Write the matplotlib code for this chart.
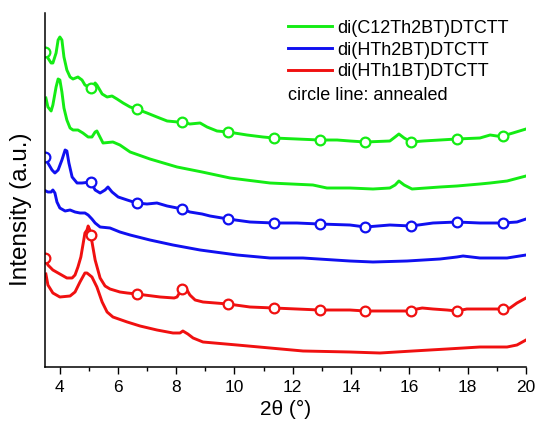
import matplotlib
matplotlib.use("Agg")
import matplotlib.pyplot as plt
from matplotlib.lines import Line2D
import numpy as np

plt.rcParams['font.family'] = ['Liberation Sans', 'DejaVu Sans']

# 2theta positions of the open circles on the annealed curves
marker_x = [3.5, 5.07, 6.64, 8.21, 9.78, 11.35, 12.92, 14.49, 16.06, 17.63, 19.2]

# di(C12Th2BT)DTCTT annealed
ga_x = [3.5, 3.6, 3.71, 3.77, 3.88, 3.95, 4.01, 4.08, 4.15, 4.25, 4.36, 4.46, 4.63, 4.77,
        4.87, 5.07, 5.22, 5.28, 5.46, 5.63, 5.8, 5.97, 6.18, 6.42, 6.64, 7.0, 7.34, 7.69,
        8.06, 8.21, 8.47, 8.82, 9.06, 9.4, 9.78, 10.43, 10.98, 11.35, 12.14, 12.92, 13.52,
        13.96, 14.49, 15.33, 15.51, 15.64, 15.82, 16.06, 16.47, 17.05, 17.63, 18.42, 18.77,
        19.0, 19.2, 19.55, 20.0]
ga_y = [315, 309, 304, 304, 314, 327, 330, 327, 310, 297, 290, 288, 290, 287,
        282, 279, 284, 282, 273, 270, 271, 268, 264, 260, 258, 254, 250, 246,
        245, 245, 243, 244, 240, 236, 235, 232, 230, 229, 228, 227, 227,
        226, 225, 226, 230, 233, 229, 225, 226, 227, 228, 229, 232,
        231, 231, 234, 238]
# di(C12Th2BT)DTCTT as cast
gc_x = [3.53, 3.6, 3.71, 3.77, 3.88, 3.95, 4.01, 4.08, 4.15, 4.25, 4.36, 4.46, 4.63, 4.8,
        4.98, 5.11, 5.22, 5.28, 5.49, 5.83, 6.07, 6.42, 7.1, 8.03, 8.89, 9.85, 11.22, 12.69,
        13.17, 13.96, 14.75, 15.33, 15.51, 15.64, 15.82, 16.09, 17.05, 17.63, 18.42, 18.77,
        19.35, 20.0]
gc_y = [269, 260, 256, 262, 280, 288, 287, 275, 259, 247, 239, 237, 237, 234,
        230, 230, 235, 236, 224, 225, 222, 215, 208, 200, 195, 189, 184, 182,
        179, 179, 178, 179, 182, 186, 182, 178, 180, 181, 183, 184,
        186, 191]
# di(HTh2BT)DTCTT annealed
ba_x = [3.5, 3.6, 3.74, 3.84, 3.95, 4.08, 4.19, 4.25, 4.32, 4.43, 4.6, 4.77, 5.07, 5.22,
        5.39, 5.56, 5.66, 5.8, 6.01, 6.32, 6.64, 7.0, 7.34, 7.69, 8.21, 8.47, 8.89, 9.16,
        9.78, 10.53, 11.35, 12.14, 12.92, 13.96, 14.49, 15.33, 16.06, 16.81, 17.63, 18.42,
        19.2, 19.69, 20.0]
ba_y = [210, 204, 197, 194, 197, 207, 217, 216, 204, 190, 184, 184, 185, 177,
        174, 177, 180, 175, 170, 167, 164, 163, 164, 161, 158, 155, 153, 151,
        148, 145, 144, 144, 143, 142, 140, 142, 141, 144, 145, 144,
        144, 145, 148]
# di(HTh2BT)DTCTT as cast
bc_x = [3.53, 3.6, 3.71, 3.77, 3.84, 3.91, 4.01, 4.19, 4.36, 4.53, 4.7, 4.87, 4.98, 5.11,
        5.22, 5.39, 5.73, 6.07, 6.42, 7.1, 7.89, 8.82, 10.09, 11.22, 12.35, 13.96, 14.75,
        15.92, 17.05, 17.63, 17.84, 18.42, 19.35, 20.0]
bc_y = [176, 175, 175, 177, 174, 165, 159, 156, 157, 155, 154, 154, 152, 148,
        144, 140, 139, 135, 132, 127, 122, 117, 112, 109, 109, 106, 105,
        106, 108, 110, 111, 109, 109, 112]
# di(HTh1BT)DTCTT annealed
ra_x = [3.5, 3.6, 3.77, 4.01, 4.25, 4.43, 4.53, 4.63, 4.73, 4.8, 4.87, 4.94, 4.98, 5.04,
        5.07, 5.22, 5.39, 5.56, 5.73, 6.07, 6.32, 6.64, 7.45, 7.93, 8.03, 8.13, 8.21, 8.37,
        8.47, 8.65, 8.92, 9.78, 10.53, 11.35, 12.92, 13.96, 14.49, 15.33, 16.06, 16.26,
        16.44, 16.81, 17.29, 17.63, 17.97, 18.52, 19.2, 19.45, 19.69, 20.0]
ra_y = [109, 102, 97, 93, 89, 89, 92, 100, 110, 122, 134, 137, 141, 137,
        132, 107, 89, 81, 78, 75, 74, 73, 70, 69, 70, 75, 78, 77,
        72, 67, 65, 63, 60, 59, 57, 57, 56, 56, 56, 58,
        59, 58, 57, 56, 58, 58, 58, 59, 64, 69]
# di(HTh1BT)DTCTT as cast
rc_x = [3.53, 3.6, 3.77, 4.01, 4.36, 4.53, 4.7, 4.87, 4.94, 5.11, 5.28, 5.46, 5.63, 5.83,
        6.32, 6.76, 7.34, 7.89, 8.13, 8.23, 8.4, 8.58, 8.92, 10.09, 11.22, 12.35, 13.96,
        14.99, 16.12, 17.29, 18.42, 19.35, 19.69, 20.0]
rc_y = [93, 82, 74, 70, 71, 75, 85, 94, 94, 90, 80, 65, 55, 50,
        45, 41, 37, 34, 34, 36, 33, 29, 25, 22, 19, 16, 15,
        14, 16, 18, 20, 20, 22, 27]

labels = ["di(C12Th2BT)DTCTT", "di(HTh2BT)DTCTT", "di(HTh1BT)DTCTT"]
colors = ["#14EC14", "#1010F0", "#F01010"]

fig = plt.figure(figsize=(5.37, 4.25), dpi=100)
ax = fig.add_axes([45/537, 1-367/425, 481/537, 354/425])

curves = [(ga_x, ga_y, gc_x, gc_y), (ba_x, ba_y, bc_x, bc_y), (ra_x, ra_y, rc_x, rc_y)]
for (axx, ayy, cx, cy), col in zip(curves, colors):
    ax.plot(cx, cy, color=col, lw=2.1, solid_joinstyle='round')
    idx = [i for i, v in enumerate(axx) if v in marker_x]
    ax.plot(axx, ayy, color=col, lw=2.1, solid_joinstyle='round', marker='o', markevery=idx,
            markersize=7, markerfacecolor='white', markeredgewidth=1.6)

ax.set_xlim(3.5, 20)
ax.set_ylim(0, 354)
ax.set_xticks(np.arange(4, 21, 2))
ax.set_xticks(np.arange(5, 20, 2), minor=True)
ax.set_yticks([])
ax.tick_params(axis='x', which='major', length=5, width=1, direction='out', labelsize=12.5, pad=4)
ax.tick_params(axis='x', which='minor', length=3, width=1, direction='out')
for s in ['top', 'right']:
    ax.spines[s].set_visible(False)
for s in ['left', 'bottom']:
    ax.spines[s].set_linewidth(1.1)
ax.set_xlabel("2θ (°)", fontsize=15, va='center')
ax.xaxis.set_label_coords(0.501, -0.119)
ax.set_ylabel("Intensity (a.u.)", fontsize=17.5, va='center')
ax.yaxis.set_label_coords(-0.05, 0.447)

handles = [Line2D([], [], color=c, lw=2.1) for c in colors]
ax.legend(handles, labels, loc='upper left', bbox_to_anchor=(0.505, 0.981),
          frameon=False, fontsize=13, handlelength=2.44, handletextpad=0.28,
          labelspacing=0.27, borderpad=0, borderaxespad=0)
ax.text(0.505, 0.766, "circle line: annealed", transform=ax.transAxes,
        fontsize=13, va='center', ha='left')

fig.savefig("out.png", dpi=100)
